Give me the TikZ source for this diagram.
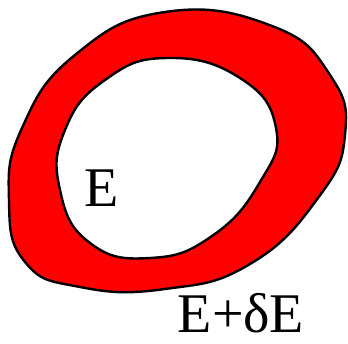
\documentclass[tikz,border=0pt]{standalone}
\usepackage{fontspec}
\setmainfont{Liberation Serif}
\usepackage{xcolor}
\usetikzlibrary{positioning}
\definecolor{ringred}{HTML}{FF0000}
\definecolor{ink}{HTML}{000000}
\tikzset{
  rimline/.style={draw=ink,line width=2.4pt,line join=round},
  bigtext/.style={inner sep=0pt,text=ink,font=\fontsize{56}{60}\selectfont}
}

\begin{document}
\begin{tikzpicture}[x=1pt,y=-1pt]
    \path[use as bounding box] (0,0) rectangle (348,343);

    % red ring between the two curves
    \fill[ringred,even odd rule]
      plot[smooth cycle,tension=0.8] coordinates {
        (165,12) (272,26) (330,75) (345,135) (318,198) (250,264)
        (165,289) (80,287) (25,262) (9,200) (22,128) (75,55)}
      plot[smooth cycle,tension=0.8] coordinates {
        (167,58) (240,78) (276,128) (260,182) (212,236) (150,258)
        (90,243) (60,190) (65,130) (105,80)};
    \draw[rimline] plot[smooth cycle,tension=0.8] coordinates {
        (165,12) (272,26) (330,75) (345,135) (318,198) (250,264)
        (165,289) (80,287) (25,262) (9,200) (22,128) (75,55)};
    \draw[rimline] plot[smooth cycle,tension=0.8] coordinates {
        (167,58) (240,78) (276,128) (260,182) (212,236) (150,258)
        (90,243) (60,190) (65,130) (105,80)};

    \node[bigtext] (inner) at (102,188) {E};
    \node[bigtext] (outer) at (241,313) {E+δE};
  \end{tikzpicture}
\end{document}
